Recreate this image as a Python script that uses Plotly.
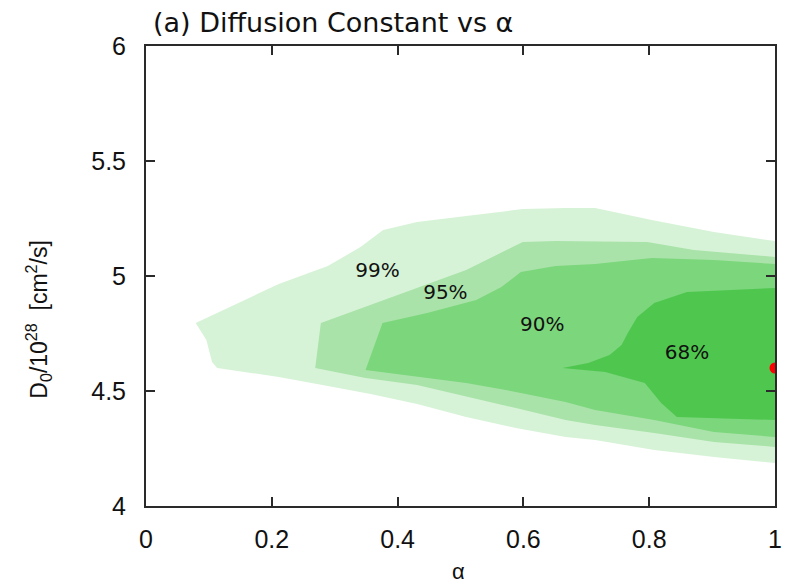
import plotly.graph_objects as go

# Confidence regions in the (alpha, D0) plane, outer boundary of each level
levels = ["99%", "95%", "90%", "68%"]

alpha_99 = [0.079, 0.132, 0.211, 0.289, 0.341, 0.377, 0.431, 0.509, 0.599, 0.667, 0.714, 0.804, 0.903, 1.0,
            1.0, 0.903, 0.808, 0.714, 0.667, 0.588, 0.509, 0.431, 0.357, 0.289, 0.211, 0.113, 0.105, 0.096, 0.079]
d0_99 = [4.796, 4.865, 4.965, 5.043, 5.126, 5.200, 5.235, 5.261, 5.291, 5.296, 5.296, 5.243, 5.191, 5.152,
         4.187, 4.213, 4.243, 4.287, 4.300, 4.339, 4.387, 4.443, 4.487, 4.522, 4.561, 4.600, 4.626, 4.722, 4.796]

alpha_95 = [0.278, 0.399, 0.509, 0.599, 0.651, 0.797, 0.871, 1.0,
            1.0, 0.903, 0.808, 0.714, 0.667, 0.588, 0.509, 0.431, 0.349, 0.269, 0.278]
d0_95 = [4.796, 4.917, 5.026, 5.148, 5.152, 5.148, 5.113, 5.083,
         4.257, 4.278, 4.317, 4.352, 4.374, 4.426, 4.478, 4.526, 4.557, 4.600, 4.796]

alpha_90 = [0.376, 0.447, 0.525, 0.565, 0.596, 0.651, 0.714, 0.804, 0.903, 1.0,
            1.0, 0.903, 0.808, 0.714, 0.667, 0.588, 0.509, 0.431, 0.349, 0.376]
d0_90 = [4.796, 4.839, 4.896, 4.952, 5.017, 5.043, 5.052, 5.078, 5.070, 5.052,
         4.300, 4.322, 4.374, 4.417, 4.452, 4.496, 4.535, 4.561, 4.591, 4.796]

alpha_68 = [0.662, 0.703, 0.737, 0.756, 0.766, 0.781, 0.808, 0.860, 1.0,
            1.0, 0.844, 0.819, 0.793, 0.730, 0.662]
d0_68 = [4.600, 4.622, 4.657, 4.700, 4.752, 4.822, 4.883, 4.930, 4.948,
         4.374, 4.387, 4.448, 4.535, 4.583, 4.600]

# Best-fit point
best_alpha = [1.0]
best_d0 = [4.6]

# Region labels and where they sit
label_text = ["99%", "95%", "90%", "68%"]
label_alpha = [0.368, 0.476, 0.630, 0.860]
label_d0 = [5.017, 4.922, 4.783, 4.661]

x_ticks = [0, 0.2, 0.4, 0.6, 0.8, 1]
x_tick_text = ["0", "0.2", "0.4", "0.6", "0.8", "1"]
y_ticks = [4, 4.5, 5, 5.5, 6]
y_tick_text = ["4", "4.5", "5", "5.5", "6"]

fill_colors = ["#d7f3d7", "#a9e3a9", "#7cd67c", "#4fc74f"]

fig = go.Figure()
regions = [(alpha_99, d0_99), (alpha_95, d0_95), (alpha_90, d0_90), (alpha_68, d0_68)]
for (xs, ys), color, name in zip(regions, fill_colors, levels):
    fig.add_trace(go.Scatter(
        x=xs, y=ys, mode="lines", fill="toself", fillcolor=color,
        line=dict(width=0, color=color), name=name, hoverinfo="skip",
    ))

fig.add_trace(go.Scatter(
    x=best_alpha, y=best_d0, mode="markers",
    marker=dict(color="#ff0000", size=11), cliponaxis=True, name="best fit",
))

fig.add_trace(go.Scatter(
    x=label_alpha, y=label_d0, mode="text", text=label_text,
    textfont=dict(family="DejaVu Sans", size=20, color="#111111"),
    hoverinfo="skip",
))

axis_common = dict(
    showgrid=False, zeroline=False, showline=True, linecolor="#2a2a2a", linewidth=2,
    mirror="ticks", ticks="inside", ticklen=9, tickwidth=1.5, tickcolor="#2a2a2a",
    tickfont=dict(family="Liberation Sans", size=25, color="#111111"),
)

fig.update_layout(
    width=787, height=587,
    margin=dict(l=146, r=5, t=46, b=81),
    paper_bgcolor="white", plot_bgcolor="white",
    showlegend=False,
    xaxis=dict(range=[0, 1], tickvals=x_ticks, ticktext=x_tick_text,
               ticklabelstandoff=10, **axis_common),
    yaxis=dict(range=[4, 6], tickvals=y_ticks, ticktext=y_tick_text,
               ticklabelstandoff=13, **axis_common),
    annotations=[
        dict(text="(a) Diffusion Constant vs α", xref="paper", yref="paper",
             x=0.008, y=1.0, xanchor="left", yanchor="middle", yshift=24, showarrow=False,
             font=dict(family="DejaVu Sans", size=27, color="#111111")),
        dict(text="α", xref="paper", yref="paper", x=0.497, y=0, xanchor="center",
             yanchor="middle", yshift=-65, showarrow=False,
             font=dict(family="Liberation Sans", size=22, color="#111111")),
        dict(text="D<sub>0</sub>/10<sup>28</sup>  [cm<sup>2</sup>/s]", xref="paper", yref="paper",
             x=0, y=0.405, xanchor="center", yanchor="middle", xshift=-108, textangle=-90,
             showarrow=False, font=dict(family="Liberation Sans", size=23, color="#111111")),
    ],
)

fig.write_html("out.html")
